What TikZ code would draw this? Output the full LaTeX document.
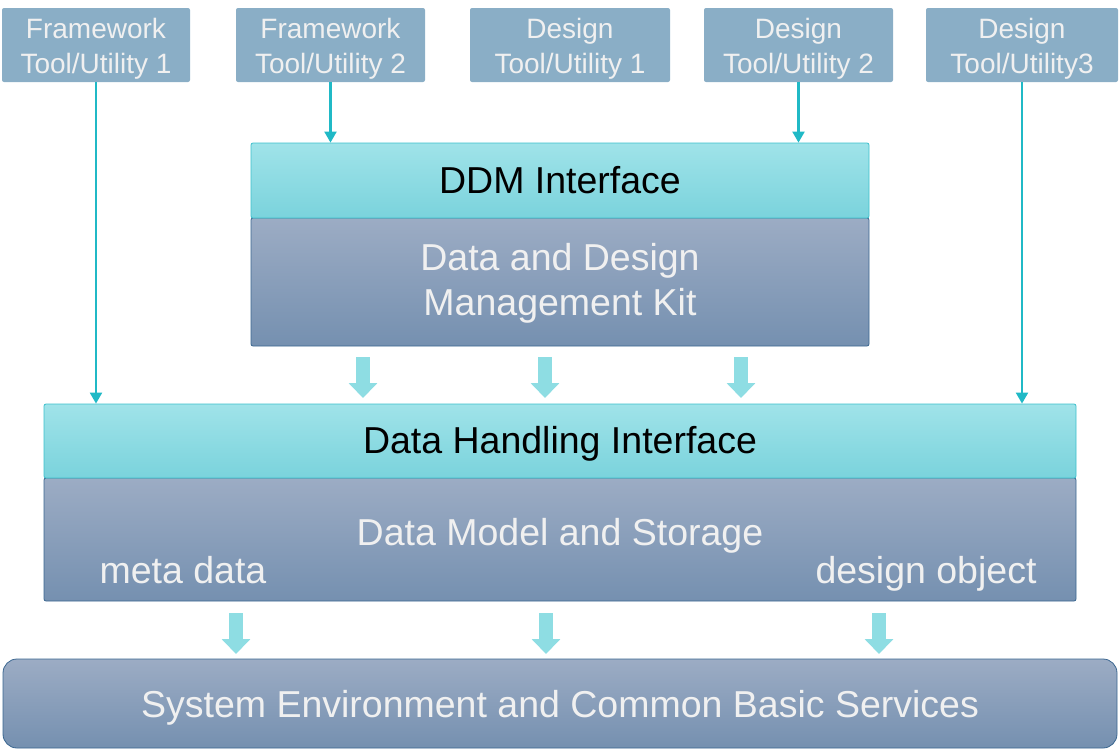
\documentclass[tikz,border=0pt]{standalone}
\usepackage{fontspec}
\setmainfont{Liberation Sans}
\usetikzlibrary{arrows.meta}
\definecolor{topbox}{HTML}{8AAEC6}
\definecolor{cyanT}{HTML}{A0E3E9}
\definecolor{cyanB}{HTML}{7AD3DC}
\definecolor{grayT}{HTML}{9CACC4}
\definecolor{grayB}{HTML}{7590B0}
\definecolor{teal}{HTML}{20B9C6}
\definecolor{blk}{HTML}{8EDDE3}
\definecolor{cyanline}{HTML}{3CC0CC}
\definecolor{darkline}{HTML}{3A6690}
\definecolor{lighttext}{HTML}{F0F0F0}
\tikzset{
  toolbox/.style={rectangle, rounded corners=2pt, fill=topbox, inner sep=0pt},
  cyanbox/.style={rectangle, rounded corners=2pt, top color=cyanT, bottom color=cyanB, draw=cyanline, line width=0.8pt, inner sep=0pt},
  graybox/.style={rectangle, rounded corners=2pt, top color=grayT, bottom color=grayB, draw=darkline, line width=0.8pt, inner sep=0pt},
  smalltxt/.style={anchor=base, align=center, text=lighttext, inner sep=0pt, font=\fontsize{28}{35}\selectfont},
  bigtxt/.style={anchor=base, align=center, text=lighttext, inner sep=0pt, font=\fontsize{37.5}{45}\selectfont},
  darktxt/.style={anchor=base, align=center, text=black, inner sep=0pt, font=\fontsize{37.5}{45}\selectfont},
  conn/.style={draw=teal, line width=2.2pt, -{Triangle[width=12pt,length=11pt]}},
  blockarrow/.style={draw=blk, line width=14pt, -{Triangle[width=28pt,length=15pt]}}
}
\begin{document}
\begin{tikzpicture}[x=1pt,y=-1pt]
\useasboundingbox (0,0) rectangle (1119,750);
% top tool boxes
\node[toolbox, minimum width=188pt, minimum height=74pt] (ft1) at (96,45) {};
\node[toolbox, minimum width=189pt, minimum height=74pt] (ft2) at (330.5,45) {};
\node[toolbox, minimum width=200pt, minimum height=74pt] (dt1) at (570,45) {};
\node[toolbox, minimum width=189pt, minimum height=74pt] (dt2) at (798.5,45) {};
\node[toolbox, minimum width=192pt, minimum height=74pt] (dt3) at (1022,45) {};
\node[smalltxt] (ft1t) at (96,73) {Framework\\Tool/Utility 1};
\node[smalltxt] (ft2t) at (330.5,73) {Framework\\Tool/Utility 2};
\node[smalltxt] (dt1t) at (570,73) {Design\\Tool/Utility 1};
\node[smalltxt] (dt2t) at (798.5,73) {Design\\Tool/Utility 2};
\node[smalltxt] (dt3t) at (1022,73) {Design\\Tool/Utility3};
% DDM block
\node[graybox, minimum width=618pt, minimum height=128pt] (ddmbot) at (560,282) {};
\node[cyanbox, minimum width=618pt, minimum height=75pt] (ddmtop) at (560,180.5) {};
\node[darktxt] (ddmtopt) at (560,193) {DDM Interface};
\node[bigtxt] (ddmbott) at (560,315) {Data and Design\\Management Kit};
% DHI block
\node[graybox, minimum width=1032pt, minimum height=123pt] (dhibot) at (560,539.5) {};
\node[cyanbox, minimum width=1032pt, minimum height=74pt] (dhitop) at (560,441) {};
\node[darktxt] (dhitopt) at (560,453) {Data Handling Interface};
\node[bigtxt] (dms) at (560,545) {Data Model and Storage};
\node[bigtxt] (meta) at (183,583) {meta data};
\node[bigtxt] (dobj) at (926,583) {design object};
% system
\node[graybox, rounded corners=14pt, minimum width=1114pt, minimum height=89pt] (sys) at (560,703.5) {};
\node[bigtxt] (syst) at (560,717) {System Environment and Common Basic Services};
% thin connectors
\draw[conn] (ft1.south) -- (ft1.south |- dhitop.north);
\draw[conn] (ft2.south) -- (ft2.south |- ddmtop.north);
\draw[conn] (dt2.south) -- (dt2.south |- ddmtop.north);
\draw[conn] (dt3.south) -- (dt3.south |- dhitop.north);
% block arrows
\coordinate (u1) at (363,357);
\coordinate (u2) at (545,357);
\coordinate (u3) at (741,357);
\coordinate (l1) at (236,613);
\coordinate (l2) at (546,613);
\coordinate (l3) at (879,613);
\draw[blockarrow] (u1) -- ++(0,41);
\draw[blockarrow] (u2) -- ++(0,41);
\draw[blockarrow] (u3) -- ++(0,41);
\draw[blockarrow] (l1) -- ++(0,41);
\draw[blockarrow] (l2) -- ++(0,41);
\draw[blockarrow] (l3) -- ++(0,41);
\end{tikzpicture}
\end{document}
